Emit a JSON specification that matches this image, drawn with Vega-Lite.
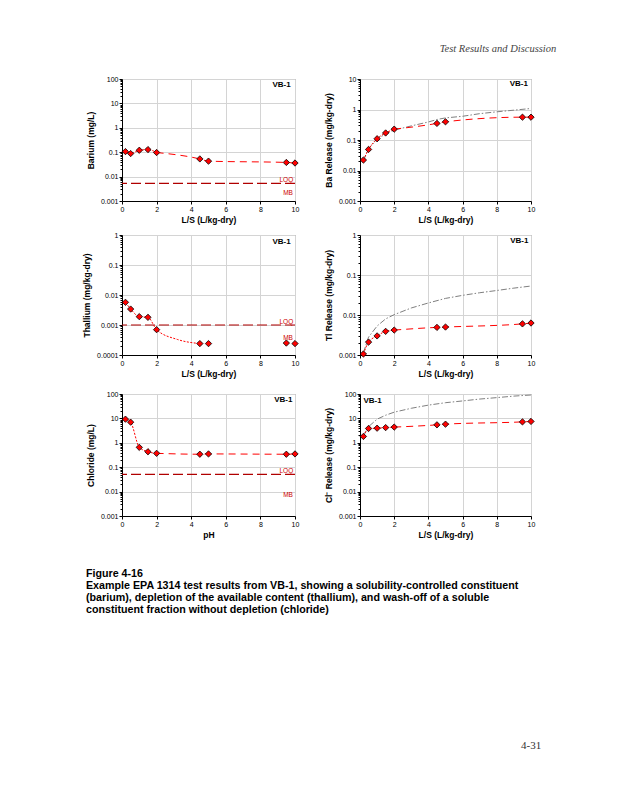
{
  "$schema": "https://vega.github.io/schema/vega-lite/v6.json",
  "background": "white",
  "padding": {"left": 82, "top": 44, "right": 10, "bottom": 10},
  "title": {"text": "4-31", "orient": "bottom", "anchor": "end", "font": "Liberation Serif", "fontSize": 11, "fontWeight": "normal", "color": "#333333", "offset": 125, "dx": -15},
  "config": {
    "font": "Liberation Sans",
    "view": {"stroke": "#7f7f7f", "strokeWidth": 1},
    "axis": {"labelFont": "Liberation Sans", "titleFont": "Liberation Sans", "labelFontSize": 7, "labelColor": "#000000", "titleFontSize": 8.5, "titleFontWeight": "bold", "titleColor": "#000000", "domainColor": "#000000", "domainWidth": 1, "tickColor": "#000000", "tickSize": 3, "labelPadding": 1, "gridColor": "#d4d4d4", "gridWidth": 1, "labelOverlap": false, "labelFlush": false},
    "axisX": {"titlePadding": 3, "labelOverlap": false},
    "axisY": {"titlePadding": 5}
  },
  "datasets": {
    "ba_pts": [{"ls": 0.2, "v": 0.106}, {"ls": 0.5, "v": 0.088}, {"ls": 1, "v": 0.12}, {"ls": 1.5, "v": 0.128}, {"ls": 2, "v": 0.097}, {"ls": 4.5, "v": 0.053}, {"ls": 5, "v": 0.043}, {"ls": 9.5, "v": 0.038}, {"ls": 10, "v": 0.036}],
    "ba_line": [{"ls": 0.2, "v": 0.106, "seg": "a"}, {"ls": 0.5, "v": 0.088, "seg": "a"}, {"ls": 1, "v": 0.12, "seg": "a"}, {"ls": 1.5, "v": 0.128, "seg": "a"}, {"ls": 2, "v": 0.097, "seg": "a"}, {"ls": 2, "v": 0.097, "seg": "b"}, {"ls": 4.5, "v": 0.053, "seg": "b"}, {"ls": 5, "v": 0.043, "seg": "b"}, {"ls": 9.5, "v": 0.038, "seg": "b"}, {"ls": 10, "v": 0.036, "seg": "b"}],
    "bar_pts": [{"ls": 0.2, "v": 0.022}, {"ls": 0.5, "v": 0.049}, {"ls": 1, "v": 0.11}, {"ls": 1.5, "v": 0.17}, {"ls": 2, "v": 0.227}, {"ls": 4.5, "v": 0.35}, {"ls": 5, "v": 0.395}, {"ls": 9.5, "v": 0.56}, {"ls": 10, "v": 0.56}],
    "bar_line": [{"ls": 0.2, "v": 0.022, "seg": "a"}, {"ls": 0.5, "v": 0.049, "seg": "a"}, {"ls": 1, "v": 0.11, "seg": "a"}, {"ls": 1.5, "v": 0.17, "seg": "a"}, {"ls": 2, "v": 0.227, "seg": "a"}, {"ls": 2, "v": 0.227, "seg": "b"}, {"ls": 4.5, "v": 0.35, "seg": "b"}, {"ls": 5, "v": 0.395, "seg": "b"}, {"ls": 9.5, "v": 0.56, "seg": "b"}, {"ls": 10, "v": 0.56, "seg": "b"}],
    "bar_max": [{"ls": 0.2, "v": 0.021}, {"ls": 0.5, "v": 0.052}, {"ls": 1, "v": 0.105}, {"ls": 1.5, "v": 0.16}, {"ls": 2, "v": 0.21}, {"ls": 3, "v": 0.29}, {"ls": 4, "v": 0.39}, {"ls": 4.5, "v": 0.47}, {"ls": 5, "v": 0.53}, {"ls": 6, "v": 0.6}, {"ls": 7, "v": 0.73}, {"ls": 8, "v": 0.84}, {"ls": 9, "v": 0.95}, {"ls": 10, "v": 1.08}],
    "tl_pts": [{"ls": 0.2, "v": 0.0057}, {"ls": 0.5, "v": 0.0034}, {"ls": 1, "v": 0.0019}, {"ls": 1.5, "v": 0.0018}, {"ls": 2, "v": 0.0007}, {"ls": 4.5, "v": 0.00024}, {"ls": 5, "v": 0.00024}, {"ls": 9.5, "v": 0.00025}, {"ls": 10, "v": 0.00024}],
    "tl_line": [{"ls": 0.2, "v": 0.0057, "seg": "a"}, {"ls": 0.5, "v": 0.0034, "seg": "a"}, {"ls": 1, "v": 0.0019, "seg": "a"}, {"ls": 1.5, "v": 0.0018, "seg": "a"}, {"ls": 2, "v": 0.0007, "seg": "a"}, {"ls": 3.2, "v": 0.00033, "seg": "a"}, {"ls": 4.5, "v": 0.00024, "seg": "a"}],
    "tlr_pts": [{"ls": 0.2, "v": 0.00106}, {"ls": 0.5, "v": 0.0021}, {"ls": 1, "v": 0.003}, {"ls": 1.5, "v": 0.0039}, {"ls": 2, "v": 0.0042}, {"ls": 4.5, "v": 0.0049}, {"ls": 5, "v": 0.005}, {"ls": 9.5, "v": 0.006}, {"ls": 10, "v": 0.0063}],
    "tlr_line": [{"ls": 0.2, "v": 0.00106, "seg": "a"}, {"ls": 0.5, "v": 0.0021, "seg": "a"}, {"ls": 1, "v": 0.003, "seg": "a"}, {"ls": 1.5, "v": 0.0039, "seg": "a"}, {"ls": 2, "v": 0.0042, "seg": "a"}, {"ls": 2, "v": 0.0042, "seg": "b"}, {"ls": 4.5, "v": 0.0049, "seg": "b"}, {"ls": 5, "v": 0.005, "seg": "b"}, {"ls": 9.5, "v": 0.006, "seg": "b"}, {"ls": 10, "v": 0.0063, "seg": "b"}],
    "tlr_max": [{"ls": 0.2, "v": 0.00114}, {"ls": 0.5, "v": 0.0028}, {"ls": 1, "v": 0.0053}, {"ls": 1.5, "v": 0.008}, {"ls": 2, "v": 0.0102}, {"ls": 3, "v": 0.015}, {"ls": 4, "v": 0.02}, {"ls": 5, "v": 0.026}, {"ls": 6, "v": 0.031}, {"ls": 7, "v": 0.036}, {"ls": 8, "v": 0.041}, {"ls": 9, "v": 0.047}, {"ls": 10, "v": 0.053}],
    "cl_pts": [{"ls": 0.2, "v": 9.3}, {"ls": 0.5, "v": 7.0}, {"ls": 1, "v": 0.65}, {"ls": 1.5, "v": 0.43}, {"ls": 2, "v": 0.37}, {"ls": 4.5, "v": 0.34}, {"ls": 5, "v": 0.35}, {"ls": 9.5, "v": 0.34}, {"ls": 10, "v": 0.35}],
    "cl_line": [{"ls": 0.2, "v": 9.3, "seg": "a"}, {"ls": 0.5, "v": 7.0, "seg": "a"}, {"ls": 1, "v": 0.65, "seg": "a"}, {"ls": 1.5, "v": 0.43, "seg": "a"}, {"ls": 2, "v": 0.37, "seg": "a"}, {"ls": 2, "v": 0.37, "seg": "b"}, {"ls": 4.5, "v": 0.34, "seg": "b"}, {"ls": 5, "v": 0.35, "seg": "b"}, {"ls": 9.5, "v": 0.34, "seg": "b"}, {"ls": 10, "v": 0.35, "seg": "b"}],
    "clr_pts": [{"ls": 0.2, "v": 1.82}, {"ls": 0.5, "v": 3.86}, {"ls": 1, "v": 3.97}, {"ls": 1.5, "v": 4.2}, {"ls": 2, "v": 4.4}, {"ls": 4.5, "v": 5.45}, {"ls": 5, "v": 5.8}, {"ls": 9.5, "v": 7.2}, {"ls": 10, "v": 7.5}],
    "clr_line": [{"ls": 0.2, "v": 1.82, "seg": "a"}, {"ls": 0.5, "v": 3.86, "seg": "a"}, {"ls": 1, "v": 3.97, "seg": "a"}, {"ls": 1.5, "v": 4.2, "seg": "a"}, {"ls": 2, "v": 4.4, "seg": "a"}, {"ls": 2, "v": 4.4, "seg": "b"}, {"ls": 4.5, "v": 5.45, "seg": "b"}, {"ls": 5, "v": 5.8, "seg": "b"}, {"ls": 9.5, "v": 7.2, "seg": "b"}, {"ls": 10, "v": 7.5, "seg": "b"}],
    "clr_max": [{"ls": 0.2, "v": 1.9}, {"ls": 0.5, "v": 4.6}, {"ls": 1, "v": 9.3}, {"ls": 1.5, "v": 13.5}, {"ls": 2, "v": 18}, {"ls": 3, "v": 26}, {"ls": 4, "v": 35}, {"ls": 5, "v": 44}, {"ls": 6, "v": 52}, {"ls": 7, "v": 62}, {"ls": 8, "v": 71}, {"ls": 9, "v": 82}, {"ls": 10, "v": 91}]
  },
  "spacing": 11,
  "vconcat": [
    {
      "spacing": 6,
      "vconcat": [
        {
          "spacing": 22,
          "title": {"text": "Test Results and Discussion", "orient": "top", "anchor": "end", "font": "Liberation Serif", "fontStyle": "italic", "fontSize": 10.5, "fontWeight": "normal", "color": "#444444", "offset": 20, "dx": 20},
          "hconcat": [
            {
              "width": 173, "height": 122,
              "layer": [
                {"data": {"name": "ba_line"}, "mark": {"type": "line", "color": "#ff0000", "strokeWidth": 1, "interpolate": "monotone"},
                 "encoding": {
                   "x": {"field": "ls", "type": "quantitative", "scale": {"domain": [0, 10], "nice": false}, "axis": {"title": "L/S (L/kg-dry)", "values": [0, 2, 4, 6, 8, 10], "labelOverlap": false, "tickCount": 6}},
                   "y": {"field": "v", "type": "quantitative", "scale": {"type": "log", "domain": [0.001, 100], "nice": false},
                         "axis": {"title": "Barium (mg/L)", "values": [0.001,0.002,0.003,0.004,0.005,0.006,0.007,0.008,0.009,0.01,0.02,0.03,0.04,0.05,0.06,0.07,0.08,0.09,0.1,0.2,0.3,0.4,0.5,0.6,0.7,0.8,0.9,1,2,3,4,5,6,7,8,9,10,20,30,40,50,60,70,80,90,100], "format": "~g",
                                  "labelExpr": "abs(log(datum.value)/LN10-round(log(datum.value)/LN10))<0.01 ? datum.label : ''",
                                  "gridOpacity": {"condition": {"test": "abs(log(datum.value)/LN10-round(log(datum.value)/LN10))<0.01", "value": 1}, "value": 0},
                                  "tickSize": {"condition": {"test": "abs(log(datum.value)/LN10-round(log(datum.value)/LN10))<0.01", "value": 3}, "value": 2}}},
                   "strokeDash": {"field": "seg", "type": "nominal", "scale": {"domain": ["a", "b"], "range": [[2, 1.5], [7, 5]]}, "legend": null}
                 }},
                {"data": {"values": [{"lim": "LOQ", "v": 0.0053}]}, "mark": {"type": "rule", "color": "#b00000", "strokeWidth": 1.2, "strokeDash": [10, 4]},
                 "encoding": {"y": {"field": "v", "type": "quantitative"}}},
                {"data": {"name": "ba_pts"}, "mark": {"type": "point", "shape": "diamond", "filled": true, "fill": "#ff0000", "stroke": "#000000", "strokeWidth": 0.8, "size": 40, "opacity": 1},
                 "encoding": {"x": {"field": "ls", "type": "quantitative"}, "y": {"field": "v", "type": "quantitative"}}},
                {"data": {"values": [{"t": "LOQ", "ls": 9.5, "v": 0.0073}, {"t": "MB", "ls": 9.6, "v": 0.0022}]}, "mark": {"type": "text", "color": "#cc0000", "fontSize": 6.5, "baseline": "middle"},
                 "encoding": {"x": {"field": "ls", "type": "quantitative"}, "y": {"field": "v", "type": "quantitative"}, "text": {"field": "t"}}},
                {"data": {"values": [{"t": "VB-1", "ls": 9.75, "v": 58}]}, "mark": {"type": "text", "align": "right", "baseline": "middle", "fontSize": 8, "fontWeight": "bold", "color": "#000000"},
                 "encoding": {"x": {"field": "ls", "type": "quantitative"}, "y": {"field": "v", "type": "quantitative"}, "text": {"field": "t"}}}
              ]
            },
            {
              "width": 171, "height": 122,
              "layer": [
                {"data": {"name": "bar_max"}, "mark": {"type": "line", "color": "#7f7f7f", "strokeWidth": 1, "strokeDash": [6, 2, 1.5, 2]},
                 "encoding": {
                   "x": {"field": "ls", "type": "quantitative", "scale": {"domain": [0, 10], "nice": false}, "axis": {"title": "L/S (L/kg-dry)", "values": [0, 2, 4, 6, 8, 10], "labelOverlap": false, "tickCount": 6}},
                   "y": {"field": "v", "type": "quantitative", "scale": {"type": "log", "domain": [0.001, 10], "nice": false},
                         "axis": {"title": "Ba Release (mg/kg-dry)", "values": [0.001,0.002,0.003,0.004,0.005,0.006,0.007,0.008,0.009,0.01,0.02,0.03,0.04,0.05,0.06,0.07,0.08,0.09,0.1,0.2,0.3,0.4,0.5,0.6,0.7,0.8,0.9,1,2,3,4,5,6,7,8,9,10], "format": "~g",
                                  "labelExpr": "abs(log(datum.value)/LN10-round(log(datum.value)/LN10))<0.01 ? datum.label : ''",
                                  "gridOpacity": {"condition": {"test": "abs(log(datum.value)/LN10-round(log(datum.value)/LN10))<0.01", "value": 1}, "value": 0},
                                  "tickSize": {"condition": {"test": "abs(log(datum.value)/LN10-round(log(datum.value)/LN10))<0.01", "value": 3}, "value": 2}}}
                 }},
                {"data": {"name": "bar_line"}, "mark": {"type": "line", "color": "#ff0000", "strokeWidth": 1, "interpolate": "monotone"},
                 "encoding": {"x": {"field": "ls", "type": "quantitative"}, "y": {"field": "v", "type": "quantitative"},
                   "strokeDash": {"field": "seg", "type": "nominal", "scale": {"domain": ["a", "b"], "range": [[2, 1.5], [5, 6]]}, "legend": null}}},
                {"data": {"name": "bar_pts"}, "mark": {"type": "point", "shape": "diamond", "filled": true, "fill": "#ff0000", "stroke": "#000000", "strokeWidth": 0.8, "size": 40, "opacity": 1},
                 "encoding": {"x": {"field": "ls", "type": "quantitative"}, "y": {"field": "v", "type": "quantitative"}}},
                {"data": {"values": [{"t": "VB-1", "ls": 9.82, "v": 6.8}]}, "mark": {"type": "text", "align": "right", "baseline": "middle", "fontSize": 8, "fontWeight": "bold", "color": "#000000"},
                 "encoding": {"x": {"field": "ls", "type": "quantitative"}, "y": {"field": "v", "type": "quantitative"}, "text": {"field": "t"}}}
              ]
            }
          ]
        },
        {
          "spacing": 22,
          "hconcat": [
            {
              "width": 173, "height": 120,
              "layer": [
                {"data": {"values": [{"lim": "LOQ", "v": 0.001}]}, "mark": {"type": "rule", "color": "#b00000", "strokeWidth": 1.2, "strokeDash": [10, 4]},
                 "encoding": {"y": {"field": "v", "type": "quantitative", "scale": {"type": "log", "domain": [0.0001, 1], "nice": false},
                         "axis": {"title": "Thallium (mg/kg-dry)", "values": [0.0001,0.0002,0.0003,0.0004,0.0005,0.0006,0.0007,0.0008,0.0009,0.001,0.002,0.003,0.004,0.005,0.006,0.007,0.008,0.009,0.01,0.02,0.03,0.04,0.05,0.06,0.07,0.08,0.09,0.1,0.2,0.3,0.4,0.5,0.6,0.7,0.8,0.9,1], "format": "~g",
                                  "labelExpr": "abs(log(datum.value)/LN10-round(log(datum.value)/LN10))<0.01 ? datum.label : ''",
                                  "gridOpacity": {"condition": {"test": "abs(log(datum.value)/LN10-round(log(datum.value)/LN10))<0.01", "value": 1}, "value": 0},
                                  "tickSize": {"condition": {"test": "abs(log(datum.value)/LN10-round(log(datum.value)/LN10))<0.01", "value": 3}, "value": 2}}}}},
                {"data": {"name": "tl_line"}, "mark": {"type": "line", "color": "#ff0000", "strokeWidth": 1, "interpolate": "monotone", "strokeDash": [2, 1.5]},
                 "encoding": {"x": {"field": "ls", "type": "quantitative", "scale": {"domain": [0, 10], "nice": false}, "axis": {"title": "L/S (L/kg-dry)", "values": [0, 2, 4, 6, 8, 10], "labelOverlap": false, "tickCount": 6}}, "y": {"field": "v", "type": "quantitative"}}},
                {"data": {"name": "tl_pts"}, "mark": {"type": "point", "shape": "diamond", "filled": true, "fill": "#ff0000", "stroke": "#000000", "strokeWidth": 0.8, "size": 40, "opacity": 1},
                 "encoding": {"x": {"field": "ls", "type": "quantitative"}, "y": {"field": "v", "type": "quantitative"}}},
                {"data": {"values": [{"t": "LOQ", "ls": 9.5, "v": 0.00125}, {"t": "MB", "ls": 9.6, "v": 0.00036}]}, "mark": {"type": "text", "color": "#cc0000", "fontSize": 6.5, "baseline": "middle"},
                 "encoding": {"x": {"field": "ls", "type": "quantitative"}, "y": {"field": "v", "type": "quantitative"}, "text": {"field": "t"}}},
                {"data": {"values": [{"t": "VB-1", "ls": 9.75, "v": 0.6}]}, "mark": {"type": "text", "align": "right", "baseline": "middle", "fontSize": 8, "fontWeight": "bold", "color": "#000000"},
                 "encoding": {"x": {"field": "ls", "type": "quantitative"}, "y": {"field": "v", "type": "quantitative"}, "text": {"field": "t"}}}
              ]
            },
            {
              "width": 171, "height": 120,
              "layer": [
                {"data": {"name": "tlr_max"}, "mark": {"type": "line", "color": "#7f7f7f", "strokeWidth": 1, "strokeDash": [6, 2, 1.5, 2]},
                 "encoding": {
                   "x": {"field": "ls", "type": "quantitative", "scale": {"domain": [0, 10], "nice": false}, "axis": {"title": "L/S (L/kg-dry)", "values": [0, 2, 4, 6, 8, 10], "labelOverlap": false, "tickCount": 6}},
                   "y": {"field": "v", "type": "quantitative", "scale": {"type": "log", "domain": [0.001, 1], "nice": false},
                         "axis": {"title": "Tl Release (mg/kg-dry)", "values": [0.001,0.002,0.003,0.004,0.005,0.006,0.007,0.008,0.009,0.01,0.02,0.03,0.04,0.05,0.06,0.07,0.08,0.09,0.1,0.2,0.3,0.4,0.5,0.6,0.7,0.8,0.9,1], "format": "~g",
                                  "labelExpr": "abs(log(datum.value)/LN10-round(log(datum.value)/LN10))<0.01 ? datum.label : ''",
                                  "gridOpacity": {"condition": {"test": "abs(log(datum.value)/LN10-round(log(datum.value)/LN10))<0.01", "value": 1}, "value": 0},
                                  "tickSize": {"condition": {"test": "abs(log(datum.value)/LN10-round(log(datum.value)/LN10))<0.01", "value": 3}, "value": 2}}}
                 }},
                {"data": {"name": "tlr_line"}, "mark": {"type": "line", "color": "#ff0000", "strokeWidth": 1, "interpolate": "monotone"},
                 "encoding": {"x": {"field": "ls", "type": "quantitative"}, "y": {"field": "v", "type": "quantitative"},
                   "strokeDash": {"field": "seg", "type": "nominal", "scale": {"domain": ["a", "b"], "range": [[2, 1.5], [6, 7]]}, "legend": null}}},
                {"data": {"name": "tlr_pts"}, "mark": {"type": "point", "shape": "diamond", "filled": true, "fill": "#ff0000", "stroke": "#000000", "strokeWidth": 0.8, "size": 40, "opacity": 1},
                 "encoding": {"x": {"field": "ls", "type": "quantitative"}, "y": {"field": "v", "type": "quantitative"}}},
                {"data": {"values": [{"t": "VB-1", "ls": 9.85, "v": 0.72}]}, "mark": {"type": "text", "align": "right", "baseline": "middle", "fontSize": 8, "fontWeight": "bold", "color": "#000000"},
                 "encoding": {"x": {"field": "ls", "type": "quantitative"}, "y": {"field": "v", "type": "quantitative"}, "text": {"field": "t"}}}
              ]
            }
          ]
        }
      ]
    },
    {
      "spacing": 22,
      "title": {"text": ["Figure 4-16", "Example EPA 1314 test results from VB-1, showing a solubility-controlled constituent", "(barium), depletion of the available content (thallium), and wash-off of a soluble", "constituent fraction without depletion (chloride)"], "orient": "bottom", "anchor": "start", "font": "Liberation Sans", "fontSize": 10.7, "fontWeight": "bold", "color": "#000000", "lineHeight": 12, "offset": 30},
      "hconcat": [
        {
          "width": 173, "height": 122,
          "layer": [
            {"data": {"name": "cl_line"}, "mark": {"type": "line", "color": "#ff0000", "strokeWidth": 1, "interpolate": "monotone"},
             "encoding": {
               "x": {"field": "ls", "type": "quantitative", "scale": {"domain": [0, 10], "nice": false}, "axis": {"title": "pH", "values": [0, 2, 4, 6, 8, 10], "labelOverlap": false, "tickCount": 6}},
               "y": {"field": "v", "type": "quantitative", "scale": {"type": "log", "domain": [0.001, 100], "nice": false},
                     "axis": {"title": "Chloride (mg/L)", "values": [0.001,0.002,0.003,0.004,0.005,0.006,0.007,0.008,0.009,0.01,0.02,0.03,0.04,0.05,0.06,0.07,0.08,0.09,0.1,0.2,0.3,0.4,0.5,0.6,0.7,0.8,0.9,1,2,3,4,5,6,7,8,9,10,20,30,40,50,60,70,80,90,100], "format": "~g",
                              "labelExpr": "abs(log(datum.value)/LN10-round(log(datum.value)/LN10))<0.01 ? datum.label : ''",
                              "gridOpacity": {"condition": {"test": "abs(log(datum.value)/LN10-round(log(datum.value)/LN10))<0.01", "value": 1}, "value": 0},
                              "tickSize": {"condition": {"test": "abs(log(datum.value)/LN10-round(log(datum.value)/LN10))<0.01", "value": 3}, "value": 2}}},
               "strokeDash": {"field": "seg", "type": "nominal", "scale": {"domain": ["a", "b"], "range": [[2, 1.5], [4, 2]]}, "legend": null}
             }},
            {"data": {"values": [{"lim": "LOQ", "v": 0.051}]}, "mark": {"type": "rule", "color": "#b00000", "strokeWidth": 1.2, "strokeDash": [10, 4]},
             "encoding": {"y": {"field": "v", "type": "quantitative"}}},
            {"data": {"name": "cl_pts"}, "mark": {"type": "point", "shape": "diamond", "filled": true, "fill": "#ff0000", "stroke": "#000000", "strokeWidth": 0.8, "size": 40, "opacity": 1},
             "encoding": {"x": {"field": "ls", "type": "quantitative"}, "y": {"field": "v", "type": "quantitative"}}},
            {"data": {"values": [{"t": "LOQ", "ls": 9.5, "v": 0.072}, {"t": "MB", "ls": 9.6, "v": 0.0071}]}, "mark": {"type": "text", "color": "#cc0000", "fontSize": 6.5, "baseline": "middle"},
             "encoding": {"x": {"field": "ls", "type": "quantitative"}, "y": {"field": "v", "type": "quantitative"}, "text": {"field": "t"}}},
            {"data": {"values": [{"t": "VB-1", "ls": 9.85, "v": 57}]}, "mark": {"type": "text", "align": "right", "baseline": "middle", "fontSize": 8, "fontWeight": "bold", "color": "#000000"},
             "encoding": {"x": {"field": "ls", "type": "quantitative"}, "y": {"field": "v", "type": "quantitative"}, "text": {"field": "t"}}}
          ]
        },
        {
          "width": 171, "height": 122,
          "layer": [
            {"data": {"name": "clr_max"}, "mark": {"type": "line", "color": "#7f7f7f", "strokeWidth": 1, "strokeDash": [6, 2, 1.5, 2]},
             "encoding": {
               "x": {"field": "ls", "type": "quantitative", "scale": {"domain": [0, 10], "nice": false}, "axis": {"title": "L/S (L/kg-dry)", "values": [0, 2, 4, 6, 8, 10], "labelOverlap": false, "tickCount": 6}},
               "y": {"field": "v", "type": "quantitative", "scale": {"type": "log", "domain": [0.001, 100], "nice": false},
                     "axis": {"title": "Cl⁻ Release (mg/kg-dry)", "values": [0.001,0.002,0.003,0.004,0.005,0.006,0.007,0.008,0.009,0.01,0.02,0.03,0.04,0.05,0.06,0.07,0.08,0.09,0.1,0.2,0.3,0.4,0.5,0.6,0.7,0.8,0.9,1,2,3,4,5,6,7,8,9,10,20,30,40,50,60,70,80,90,100], "format": "~g",
                              "labelExpr": "abs(log(datum.value)/LN10-round(log(datum.value)/LN10))<0.01 ? datum.label : ''",
                              "gridOpacity": {"condition": {"test": "abs(log(datum.value)/LN10-round(log(datum.value)/LN10))<0.01", "value": 1}, "value": 0},
                              "tickSize": {"condition": {"test": "abs(log(datum.value)/LN10-round(log(datum.value)/LN10))<0.01", "value": 3}, "value": 2}}}
             }},
            {"data": {"name": "clr_line"}, "mark": {"type": "line", "color": "#ff0000", "strokeWidth": 1, "interpolate": "monotone"},
             "encoding": {"x": {"field": "ls", "type": "quantitative"}, "y": {"field": "v", "type": "quantitative"},
               "strokeDash": {"field": "seg", "type": "nominal", "scale": {"domain": ["a", "b"], "range": [[2, 1.5], [6, 7]]}, "legend": null}}},
            {"data": {"name": "clr_pts"}, "mark": {"type": "point", "shape": "diamond", "filled": true, "fill": "#ff0000", "stroke": "#000000", "strokeWidth": 0.8, "size": 40, "opacity": 1},
             "encoding": {"x": {"field": "ls", "type": "quantitative"}, "y": {"field": "v", "type": "quantitative"}}},
            {"data": {"values": [{"t": "VB-1", "ls": 0.2, "v": 52}]}, "mark": {"type": "text", "align": "left", "baseline": "middle", "fontSize": 8, "fontWeight": "bold", "color": "#000000"},
             "encoding": {"x": {"field": "ls", "type": "quantitative"}, "y": {"field": "v", "type": "quantitative"}, "text": {"field": "t"}}}
          ]
        }
      ]
    }
  ]
}
